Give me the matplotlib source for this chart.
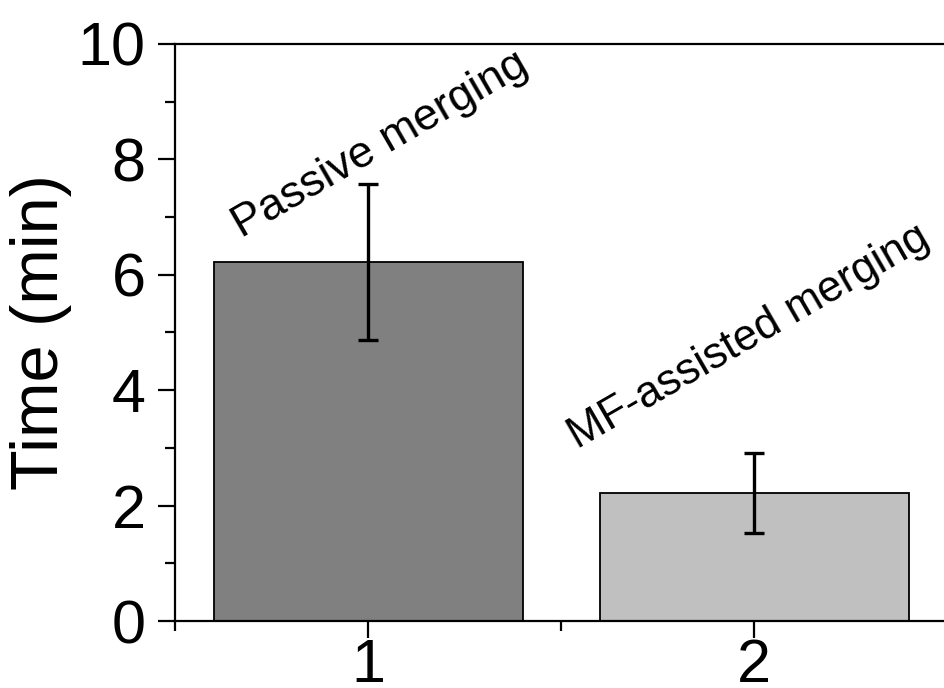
import numpy as np
import matplotlib
matplotlib.use("Agg")
import matplotlib.pyplot as plt
from matplotlib.ticker import MultipleLocator

plt.rcParams['font.family'] = ['Liberation Sans', 'DejaVu Sans']

# datos
posiciones = [1, 2]
tiempos = [6.22, 2.22]
errores = [1.35, 0.70]
colores = ['#808080', '#c0c0c0']
etiquetas = ['Passive merging', 'MF-assisted merging']

fig = plt.figure(figsize=(9.44, 6.88), dpi=100, facecolor='w')
ax = fig.add_axes([175/944., 67/688., 772.5/944., 577/688.])

ax.bar(posiciones, tiempos, width=0.8, color=colores, edgecolor='k', linewidth=1.3, zorder=2)
ax.errorbar(posiciones, tiempos, yerr=errores, fmt='none', ecolor='k',
            elinewidth=2.4, capsize=7, capthick=2.4, zorder=3)

# etiquetas rotadas
ax.text(0.672, 6.64, etiquetas[0], rotation=30, rotation_mode='anchor',
        ha='left', va='baseline', fontsize=32.5)
ax.text(1.543, 2.98, etiquetas[1], rotation=30, rotation_mode='anchor',
        ha='left', va='baseline', fontsize=31.5)

ax.set_xlim(0.5, 2.5)
ax.set_ylim(0, 10)
ax.set_xticks([1, 2])
ax.xaxis.set_minor_locator(MultipleLocator(0.5))
ax.yaxis.set_major_locator(MultipleLocator(2))
ax.yaxis.set_minor_locator(MultipleLocator(1))
ax.tick_params(which='major', direction='out', length=12, width=1.6, labelsize=44, pad=9)
ax.tick_params(which='minor', direction='out', length=7, width=1.6)
ax.tick_params(axis='x', pad=0)
for s in ax.spines.values():
    s.set_linewidth(1.6)
ax.set_ylabel('Time (min)', fontsize=48, labelpad=4)

plt.savefig('out.png', dpi=100)
